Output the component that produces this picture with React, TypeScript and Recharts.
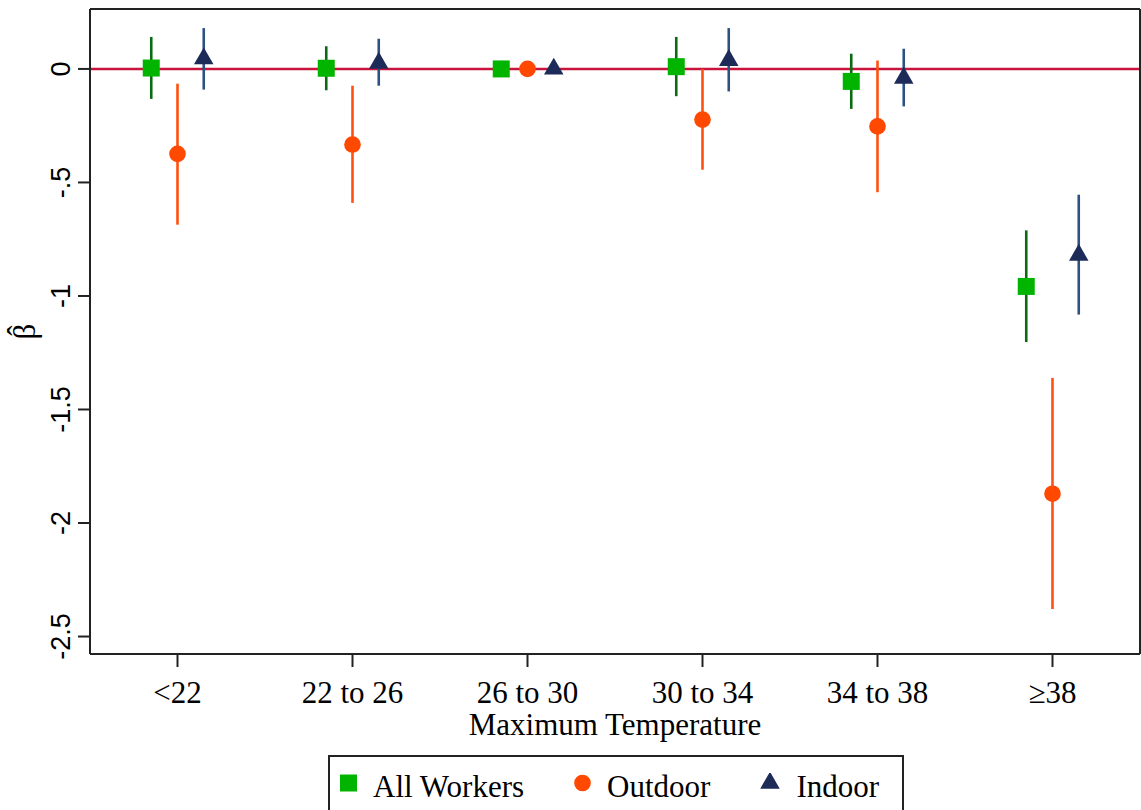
import { ScatterChart, Scatter, XAxis, YAxis, ErrorBar, ReferenceLine, Legend, Symbols } from 'recharts';

// temperature bins
const CATEGORIES = ['<22', '22 to 26', '26 to 30', '30 to 34', '34 to 38', '≥38'];

// point estimates and 95% CI bounds
const ALL_EST = [0.004, 0.003, 0, 0.01, -0.055, -0.958];
const ALL_LO = [-0.132, -0.094, 0, -0.12, -0.176, -1.203];
const ALL_HI = [0.141, 0.1, 0, 0.141, 0.067, -0.711];

const OUT_EST = [-0.374, -0.333, 0, -0.223, -0.253, -1.871];
const OUT_LO = [-0.686, -0.59, 0, -0.444, -0.543, -2.379];
const OUT_HI = [-0.065, -0.074, 0, 0.0, 0.037, -1.361];

const IN_EST = [0.045, 0.026, 0, 0.038, -0.04, -0.82];
const IN_LO = [-0.091, -0.074, 0, -0.099, -0.165, -1.082];
const IN_HI = [0.18, 0.133, 0, 0.18, 0.089, -0.554];

const Y_TICKS = [0, -0.5, -1, -1.5, -2, -2.5];
const Y_TICK_LABELS = ['0', '-.5', '-1', '-1.5', '-2', '-2.5'];
const X_TICKS = [1, 2, 3, 4, 5, 6];

const X_DOMAIN = [0.5, 6.5];
const Y_DOMAIN = [-2.577, 0.264];
const DODGE = 0.15;

const SERIF = '"Liberation Serif", "Times New Roman", serif';
const SANS = '"Liberation Sans", Arial, sans-serif';
const FRAME = '#222';

const build = (est: number[], lo: number[], hi: number[], shift: number) =>
  est.map((y, i) => ({ x: i + 1 + shift, y, err: [y - lo[i], hi[i] - y] }));

const allData = build(ALL_EST, ALL_LO, ALL_HI, -DODGE);
const outData = build(OUT_EST, OUT_LO, OUT_HI, 0);
const inData = build(IN_EST, IN_LO, IN_HI, DODGE);

const SERIES = [
  { name: 'All Workers', data: allData, type: 'square', size: 289, fill: '#00b400', bar: '#0b6b12' },
  { name: 'Outdoor', data: outData, type: 'circle', size: 218, fill: '#ff4800', bar: '#ff5010' },
  { name: 'Indoor', data: inData, type: 'triangle', size: 165, fill: '#1c2b58', bar: '#2c5282' },
];

const marker = (type: any, size: number, fill: string) => (p: any) =>
  <Symbols cx={p.cx} cy={p.cy} type={type} size={size} sizeType="area" fill={fill} />;

const YTick = (p: any) => {
  const i = Y_TICKS.indexOf(p.payload.value);
  const x = p.x - 6;
  return (
    <text x={x} y={p.y} transform={`rotate(-90 ${x} ${p.y})`} textAnchor="middle"
      fontFamily={SANS} fontSize={27} fill="#000">
      {Y_TICK_LABELS[i] ?? p.payload.value}
    </text>
  );
};

const XTick = (p: any) => (
  <text x={p.x} y={p.y + 34} textAnchor="middle" fontFamily={SERIF} fontSize={31} fill="#000">
    {CATEGORIES[p.payload.value - 1]}
  </text>
);

// keep the series order (Recharts sorts the payload by name)
const LegendBox = () => (
  <div style={{
    border: `2px solid ${FRAME}`, boxSizing: 'border-box', height: 70, display: 'flex',
    alignItems: 'center', paddingLeft: 10, paddingBottom: 6, fontFamily: SERIF, fontSize: 31,
    lineHeight: '34px', color: '#000', background: '#fff',
  }}>
    {SERIES.map((s, i) => {
      const w = s.type === 'triangle' ? 20 : 17;
      return (
        <span key={s.name} style={{ display: 'flex', alignItems: 'center', marginRight: i < SERIES.length - 1 ? 50 : 0 }}>
          <svg width={w} height={20} style={{ marginRight: 16, position: 'relative', top: -4 }}>
            <Symbols cx={w / 2} cy={10} type={s.type as any} size={s.size} sizeType="area" fill={s.fill} />
          </svg>
          <span>{s.name}</span>
        </span>
      );
    })}
  </div>
);

export default function App() {
  return (
    <div style={{ position: 'absolute', left: 0, top: 0, width: 1141, height: 810, overflow: 'hidden', background: '#fff' }}>
      <ScatterChart width={1141} height={810} margin={{ top: 8, right: 0, bottom: 0, left: 0 }}>
        <XAxis dataKey="x" type="number" domain={X_DOMAIN} ticks={X_TICKS} allowDataOverflow
          height={101} tickSize={13} tick={<XTick />}
          axisLine={{ stroke: FRAME, strokeWidth: 2 }} tickLine={{ stroke: FRAME, strokeWidth: 2 }}
          label={{
            content: ({ viewBox }: any) => (
              <text x={viewBox.x + viewBox.width / 2} y={viewBox.y + 81} textAnchor="middle"
                fontFamily={SERIF} fontSize={31} fill="#000">Maximum Temperature</text>
            ),
          }} />
        <XAxis xAxisId="top" orientation="top" dataKey="x" type="number" domain={X_DOMAIN} height={1}
          tick={false} tickLine={false} axisLine={{ stroke: FRAME, strokeWidth: 2 }} />
        <YAxis dataKey="y" type="number" domain={Y_DOMAIN} ticks={Y_TICKS} allowDataOverflow
          width={90} tickSize={12} tick={<YTick />}
          axisLine={{ stroke: FRAME, strokeWidth: 2 }} tickLine={{ stroke: FRAME, strokeWidth: 2 }}
          label={{
            content: ({ viewBox }: any) => {
              const x = viewBox.x + 35;
              const y = viewBox.y + viewBox.height / 2;
              return (
                <g transform={`rotate(-90 ${x} ${y})`} fontFamily={SERIF} fontSize={31} fill="#000">
                  <text x={x} y={y} textAnchor="middle">β</text>
                  <text x={x + 1} y={y - 6} textAnchor="middle">ˆ</text>
                </g>
              );
            },
          }} />
        <YAxis yAxisId="right" orientation="right" dataKey="y" type="number" domain={Y_DOMAIN} width={1}
          tick={false} tickLine={false} axisLine={{ stroke: FRAME, strokeWidth: 2 }} />
        <ReferenceLine y={0} stroke="#c8143c" strokeWidth={2.5} />
        <Legend verticalAlign="bottom" content={<LegendBox />}
          wrapperStyle={{ left: 328, width: 576, height: 55, overflow: 'hidden' }} />
        {SERIES.map(s => (
          <Scatter key={s.name} name={s.name} data={s.data} fill={s.fill} legendType={s.type as any}
            shape={marker(s.type, s.size, s.fill)} isAnimationActive={false}>
            <ErrorBar dataKey="err" direction="y" width={0} stroke={s.bar} strokeWidth={2.6} isAnimationActive={false} />
          </Scatter>
        ))}
      </ScatterChart>
    </div>
  );
}
